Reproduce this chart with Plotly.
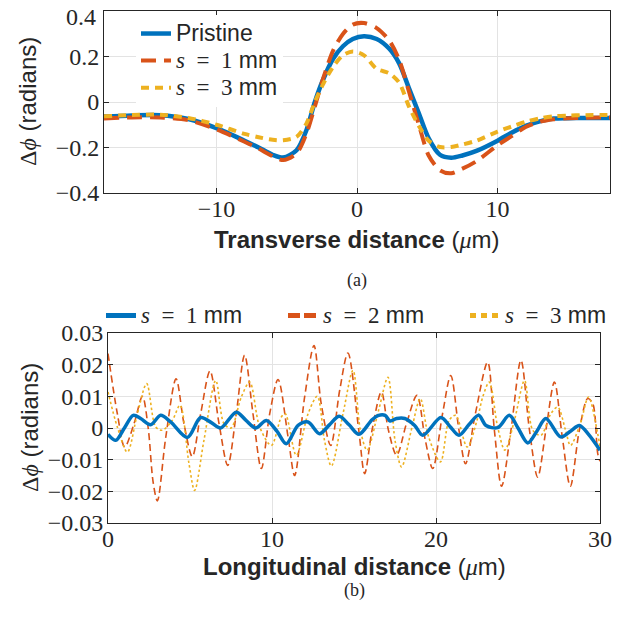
import plotly.graph_objects as go

# ---------------- Panel (a): transverse profiles ----------------
trans_x = [-18, -16, -14, -12, -10, -8, -7, -6, -5.25, -4.3, -3.6, -3, -2.4, -1.7, -1, -0.3,
           0.5, 1.4, 2.3, 3, 3.7, 4.4, 5.1, 5.9, 6.7, 7.5, 8.5, 10, 11, 12, 13, 14, 15, 16, 18]
pristine = [-0.064, -0.059, -0.058, -0.075, -0.115, -0.17, -0.2, -0.232, -0.244, -0.212, -0.124, 0.0,
            0.1, 0.19, 0.245, 0.277, 0.289, 0.277, 0.234, 0.17, 0.06, -0.05, -0.16, -0.232, -0.245,
            -0.235, -0.215, -0.17, -0.135, -0.105, -0.085, -0.073, -0.071, -0.07, -0.07]
s1_trans = [-0.072, -0.068, -0.068, -0.08, -0.12, -0.175, -0.205, -0.238, -0.255, -0.226, -0.139, -0.02,
            0.105, 0.226, 0.299, 0.34, 0.347, 0.325, 0.27, 0.185, 0.045, -0.1, -0.235, -0.3, -0.313,
            -0.293, -0.26, -0.19, -0.15, -0.11, -0.087, -0.076, -0.071, -0.07, -0.068]
s3_trans = [-0.063, -0.057, -0.056, -0.07, -0.1, -0.14, -0.155, -0.166, -0.168, -0.153, -0.095, 0.0,
            0.08, 0.155, 0.205, 0.222, 0.205, 0.146, 0.126, 0.085, -0.02, -0.105, -0.17, -0.198, -0.198,
            -0.187, -0.17, -0.13, -0.108, -0.087, -0.072, -0.063, -0.06, -0.058, -0.057]

# ---------------- Panel (b): longitudinal profiles ----------------
long_x_s1 = [0, 0.47, 1.0, 1.54, 1.99, 2.6, 3.21, 3.82, 4.84, 5.65, 6.3, 6.87, 7.82, 8.4, 9.0, 9.66,
             10.3, 10.87, 11.59, 12.2, 12.9, 13.5, 14.1, 14.7, 15.3, 16.1, 16.5, 16.9, 17.2, 17.6, 18.1,
             18.7, 19.2, 20.3, 20.85, 21.4, 22.0, 22.6, 23.05, 23.76, 24.47, 25.0, 25.6, 26.15, 26.7,
             27.6, 28.2, 28.74, 29.3, 30]
long_y_s1 = [-0.002, -0.0039, 0.0, 0.004, 0.003, 0.001, 0.004, 0.0019, -0.003, 0.0033, 0.0017, 0.0,
             0.005, 0.0025, 0.0, 0.0024, -0.001, -0.005, 0.0008, 0.0019, -0.0018, 0.001, 0.0037, 0.001,
             -0.002, 0.0026, 0.004, 0.004, 0.0022, 0.003, 0.003, 0.0008, -0.0023, 0.0033, 0.0005,
             -0.0023, 0.001, 0.004, 0.0008, 0.0001, 0.004, 0.0, -0.0047, -0.001, 0.003, -0.0028,
             -0.001, 0.0008, -0.002, -0.007]

long_x_s2 = [0, 0.57, 1.02, 1.59, 2.1, 2.45, 2.75, 3.01, 3.52, 4.15, 4.63, 5.14, 5.65, 6.22, 6.77, 7.3,
             7.82, 8.33, 8.84, 9.35, 9.86, 10.37, 10.98, 11.38, 11.99, 12.56, 13.0, 13.58, 14.13, 14.63,
             15.29, 15.65, 16.1, 16.67, 17.1, 17.6, 18.2, 18.84, 19.35, 19.8, 20.4, 20.9, 21.4, 21.8,
             22.4, 23.15, 23.56, 24.0, 24.57, 25.18, 25.7, 26.2, 26.7, 27.22, 27.7, 28.19, 28.74, 29.25,
             29.56, 29.86, 30]
long_y_s2 = [0.0235, 0.0045, -0.006, 0.0014, 0.01, 0.0, -0.017, -0.023, -0.003, 0.0155, 0.0014, -0.009,
             0.0045, 0.018, 0.0014, -0.0118, 0.0045, 0.023, 0.0045, -0.0128, 0.0045, 0.0153, -0.0028,
             -0.015, 0.0098, 0.026, 0.0077, -0.0055, 0.012, 0.0237, -0.0007, -0.0144, -0.0007, 0.0114,
             -0.0007, -0.0086, 0.0014, 0.0103, -0.0039, -0.0128, 0.0045, 0.0166, -0.0007, -0.0113,
             0.0045, 0.0208, -0.0007, -0.0184, -0.0007, 0.0214, -0.0007, -0.0155, -0.0007, 0.0145,
             -0.0028, -0.0184, -0.0007, 0.0093, 0.0077, -0.008, -0.0105]

long_x_s3 = [0, 0.57, 1.18, 1.79, 2.36, 2.91, 3.31, 3.92, 4.39, 4.94, 5.28, 5.85, 6.57, 7.07, 7.5, 8.13,
             8.64, 9.25, 9.96, 10.57, 10.81, 11.48, 12.2, 12.76, 13.2, 13.62, 14.33, 14.94, 15.39, 15.8,
             16.5, 17.07, 17.5, 17.9, 18.54, 19.04, 19.55, 20.27, 20.8, 21.2, 21.9, 22.5, 22.85, 23.25,
             23.76, 24.2, 24.78, 25.4, 25.9, 26.4, 27.0, 27.42, 27.9, 28.2, 28.8, 29.3, 29.86, 30]
long_y_s3 = [0.0114, 0.0003, -0.0076, 0.0045, 0.014, 0.0003, -0.0007, 0.0024, 0.0072, -0.0113, -0.0197,
             -0.0039, 0.015, 0.0014, 0.0, 0.0098, 0.0145, 0.0003, -0.0055, 0.0035, 0.0045, -0.0086,
             0.0045, 0.01, -0.0039, -0.012, 0.0045, 0.0182, -0.0007, -0.007, 0.0056, 0.016, -0.0039,
             -0.0123, 0.0003, 0.0093, -0.0028, -0.0107, 0.0024, 0.004, -0.006, 0.0024, 0.0098, 0.0145,
             0.0003, -0.007, 0.0024, 0.015, -0.0007, -0.0023, 0.0045, 0.0066, -0.0007, -0.0055, 0.0014,
             0.0098, -0.0018, -0.006]

# ---------------- Tick labels ----------------
a_xticks = [-10, 0, 10]
a_xtext = ["\u221210", "0", "10"]
a_yticks = [-0.4, -0.2, 0, 0.2, 0.4]
a_ytext = ["\u22120.4", "\u22120.2", "0", "0.2", ""]   # top label drawn below (kept inside page)
a_ytop_label = "0.4"
b_xticks = [0, 10, 20, 30]
b_xtext = ["0", "10", "20", "30"]
b_yticks = [-0.03, -0.02, -0.01, 0, 0.01, 0.02, 0.03]
b_ytext = ["\u22120.03", "\u22120.02", "\u22120.01", "0", "0.01", "0.02", "0.03"]

BLUE = "#0072BD"
RED = "#D95319"
YEL = "#EDB120"
AX = "#262626"
GRID = "#e3e3e3"
SERIF = "Liberation Serif"
SANS = "Liberation Sans"

# the page body adds an 8 px margin; lay the figure out in page pixels
OFF = 8
W, H = 626 - OFF, 618 - OFF


def fx(p):
    return (p - OFF) / W


def fy(p):
    return 1 - (p - OFF) / H


def big(t, size=23):
    return f"<span style='font-size:{size}px'>{t}</span>"


def sname(n):
    return big(f"<span style='font-family:{SERIF}'><i>s</i>\u2002=\u2002{n}</span> mm")


fig = go.Figure()

# panel (a)
fig.add_trace(go.Scatter(x=trans_x, y=pristine, mode="lines", name=big("Pristine"),
                         line=dict(color=BLUE, width=4.5, shape="spline", smoothing=0.8),
                         xaxis="x", yaxis="y", legend="legend"))
fig.add_trace(go.Scatter(x=trans_x, y=s1_trans, mode="lines", name=sname(1),
                         line=dict(color=RED, width=4, dash="15px,8px", shape="spline", smoothing=0.8),
                         xaxis="x", yaxis="y", legend="legend"))
fig.add_trace(go.Scatter(x=trans_x, y=s3_trans, mode="lines", name=sname(3),
                         line=dict(color=YEL, width=4, dash="8px,6px", shape="spline", smoothing=0.8),
                         xaxis="x", yaxis="y", legend="legend"))

# panel (b)
fig.add_trace(go.Scatter(x=long_x_s2, y=long_y_s2, mode="lines", showlegend=False,
                         line=dict(color=RED, width=1.6, dash="7px,4px", shape="spline", smoothing=0.9),
                         xaxis="x2", yaxis="y2"))
fig.add_trace(go.Scatter(x=long_x_s3, y=long_y_s3, mode="lines", showlegend=False,
                         line=dict(color=YEL, width=1.6, dash="2.5px,2.5px", shape="spline", smoothing=0.9),
                         xaxis="x2", yaxis="y2"))
fig.add_trace(go.Scatter(x=long_x_s1, y=long_y_s1, mode="lines", showlegend=False,
                         line=dict(color=BLUE, width=3.5, shape="spline", smoothing=0.9),
                         xaxis="x2", yaxis="y2"))
# legend entries for panel (b)
fig.add_trace(go.Scatter(x=[None], y=[None], mode="lines", name=sname(1),
                         line=dict(color=BLUE, width=5), xaxis="x2", yaxis="y2", legend="legend2"))
fig.add_trace(go.Scatter(x=[None], y=[None], mode="lines", name=sname(2),
                         line=dict(color=RED, width=5, dash="12px,4px"), xaxis="x2", yaxis="y2", legend="legend2"))
fig.add_trace(go.Scatter(x=[None], y=[None], mode="lines", name=sname(3),
                         line=dict(color=YEL, width=5, dash="6px,5px"), xaxis="x2", yaxis="y2", legend="legend2"))

common = dict(showline=True, linecolor=AX, linewidth=1, mirror="ticks", ticks="inside",
              ticklen=5, tickcolor=AX, showgrid=True, gridcolor=GRID, gridwidth=1,
              zeroline=False, automargin=False, ticklabeloverflow="allow",
              tickfont=dict(family=SERIF, size=24, color=AX))
xcommon = dict(ticklabelstandoff=-6, **common)
ycommon = dict(ticklabelstandoff=-1, **common)

fig.update_layout(
    width=W, height=H, margin=dict(l=0, r=0, t=0, b=0, autoexpand=False),
    paper_bgcolor="white", plot_bgcolor="white",
    xaxis=dict(domain=[fx(104), fx(610)], anchor="y", range=[-18, 18],
               tickvals=a_xticks, ticktext=a_xtext, **xcommon),
    yaxis=dict(domain=[fy(193), fy(11)], anchor="x", range=[-0.4, 0.4],
               tickvals=a_yticks, ticktext=a_ytext, **ycommon),
    xaxis2=dict(domain=[fx(108), fx(600)], anchor="y2", range=[0, 30],
                tickvals=b_xticks, ticktext=b_xtext, **xcommon),
    yaxis2=dict(domain=[fy(523), fy(333)], anchor="x2", range=[-0.03, 0.03],
                tickvals=b_yticks, ticktext=b_ytext, **ycommon),
    legend=dict(x=fx(136), y=fy(15), xanchor="left", yanchor="top", bgcolor="white",
                borderwidth=0, font=dict(family=SANS, size=18.5, color=AX), tracegroupgap=0),
    legend2=dict(orientation="h", x=fx(101), y=fy(297), xanchor="left", yanchor="top",
                 bgcolor="rgba(0,0,0,0)", font=dict(family=SANS, size=18.5, color=AX),
                 entrywidth=137, entrywidthmode="pixels"),
    showlegend=True,
)

ylab = f"<span style='font-family:{SERIF}'>\u0394<i>\u03d5</i></span> (radians)"
annos = [
    dict(text=ylab, x=fx(28), y=fy(102), textangle=-90),
    dict(text=ylab, x=fx(29), y=fy(428), textangle=-90),
    dict(text=f"<b>Transverse distance</b> (<span style='font-family:{SERIF}'><i>\u03bc</i></span>m)",
         x=fx(357), y=fy(240)),
    dict(text=f"<b>Longitudinal distance</b> (<span style='font-family:{SERIF}'><i>\u03bc</i></span>m)",
         x=fx(354), y=fy(566)),
]
for a in annos:
    fig.add_annotation(xref="paper", yref="paper", xanchor="center", yanchor="middle",
                       showarrow=False, font=dict(family=SANS, size=24, color=AX), **a)
# top tick label of panel (a), nudged just inside the page
fig.add_annotation(text=a_ytop_label, x=fx(98), y=fy(17), xref="paper", yref="paper",
                   xanchor="right", yanchor="middle", showarrow=False,
                   font=dict(family=SERIF, size=24, color=AX))
fig.add_annotation(text="(a)", x=fx(357), y=fy(280), xref="paper", yref="paper",
                   showarrow=False, font=dict(family=SERIF, size=18, color=AX))
fig.add_annotation(text="(b)", x=fx(354), y=fy(603), xref="paper", yref="paper",
                   showarrow=False, font=dict(family=SERIF, size=18, color=AX))

fig.write_html("out.html")
